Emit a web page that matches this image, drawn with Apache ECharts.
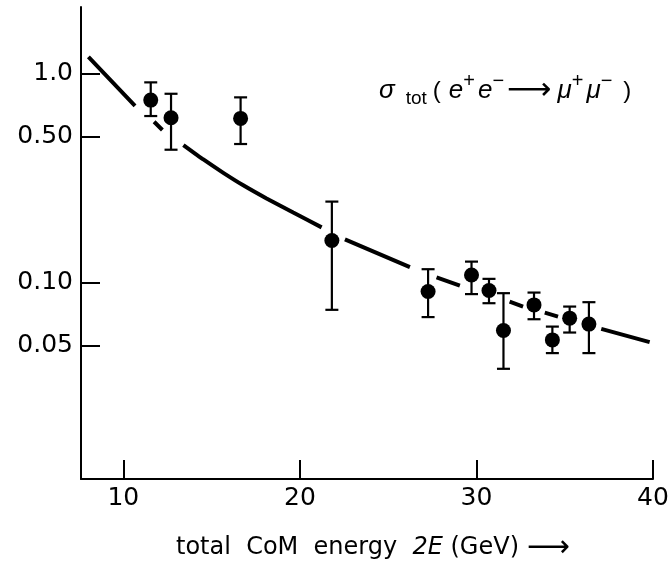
<!DOCTYPE html>
<html><head><meta charset="utf-8">
<script src="https://cdn.jsdelivr.net/npm/echarts@6/dist/echarts.min.js"></script>
<style>html,body{margin:0;padding:0;background:#fff}#c{width:670px;height:563px}</style>
</head><body><div id="c"></div>
<script>
// measured points: total CoM energy 2E (GeV) and sigma_tot (nb)
const energy    = [11.55, 12.70, 16.64, 21.81, 27.26, 29.72, 30.71, 31.53, 33.26, 34.30, 35.28, 36.37];
const sigma     = [0.746, 0.614, 0.610, 0.159, 0.0906, 0.1088, 0.0916, 0.0590, 0.0782, 0.0532, 0.0676, 0.0633];
const sigmaHigh = [0.907, 0.800, 0.769, 0.244, 0.1159, 0.126, 0.1042, 0.0890, 0.0896, 0.0616, 0.0768, 0.0806];
const sigmaLow  = [0.626, 0.432, 0.460, 0.0741, 0.0684, 0.0881, 0.0797, 0.0387, 0.0668, 0.0460, 0.0577, 0.0460];
// QED curve (null = gap in the dashed curve)
const curveE     = [8.02, 10.66, null, 11.74, 12.21, null, 13.40, 14.53, 15.66, 16.79, 18.11, 19.62, 21.23, null, 22.55, 26.23, null, 27.74, 29.06, null, 31.88, 32.64, null, 33.87, 34.62, null, 37.07, 39.81];
const curveSigma = [1.20, 0.701, null, 0.588, 0.537, null, 0.455, 0.388, 0.335, 0.292, 0.2526, 0.2163, 0.1837, null, 0.161, 0.1185, null, 0.106, 0.0968, null, 0.0811, 0.0768, null, 0.0719, 0.0688, null, 0.0601, 0.0519];
const xTicks = [10, 20, 30, 40];
const yTicks = [0.05, 0.1, 0.5, 1.0];
const yTickLabels = ['0.05', '0.10', '0.50', '1.0'];
const xAxisTitle = 'total  CoM  energy  {i|2E} (GeV) {a|⟶}';

const chart = echarts.init(document.getElementById('c'));
const FONT = 'DejaVu Sans';
const axisLine = {show: true, onZero: false, lineStyle: {color: '#000', width: 2}};
const base = {fontFamily: 'Liberation Sans', fontWeight: 'normal', color: '#000'};
chart.setOption({
  animation: false,
  backgroundColor: '#fff',
  grid: {left: 81, right: 17, top: 7, bottom: 84, outerBoundsMode: 'none', containLabel: false},
  title: {
    text: '{s|σ}{sub|tot}{p|(}{e|e}{sup|+}{e|e}{sup|−}{a|⟶}{e|μ}{sup|+}{e|μ}{sup|−}{p2|)}',
    left: 374, top: 66,
    textStyle: {
      fontWeight: 'normal',
      rich: {
        s: Object.assign({}, base, {fontStyle: 'italic', fontSize: 26}),
        sub: Object.assign({}, base, {fontSize: 19, padding: [16, 6, 0, 11]}),
        p: Object.assign({}, base, {fontSize: 24, padding: [0, 8, 0, 0]}),
        p2: Object.assign({}, base, {fontSize: 24, padding: [0, 0, 0, 8]}),
        e: Object.assign({}, base, {fontStyle: 'italic', fontSize: 26}),
        sup: Object.assign({}, base, {fontSize: 20, padding: [0, 3, 20, 0]}),
        a: {fontFamily: 'DejaVu Sans', fontWeight: 'normal', color: '#000', fontSize: 31, padding: [0, 6, 0, 0]}
      }
    }
  },
  graphic: [{
    type: 'text', x: 176, y: 548, silent: true,
    style: {
      text: xAxisTitle, fontFamily: FONT, fontSize: 24, fill: '#000',
      align: 'left', verticalAlign: 'middle',
      rich: {
        i: {fontFamily: FONT, fontStyle: 'italic', fontSize: 24, color: '#000'},
        a: {fontFamily: FONT, fontSize: 30, color: '#000'}
      }
    }
  }],
  xAxis: {
    type: 'value', min: 7.6, max: 40,
    axisLine: axisLine,
    axisTick: {show: true, inside: true, length: 19, lineStyle: {color: '#000', width: 2}, customValues: xTicks},
    axisLabel: {customValues: xTicks, fontFamily: FONT, fontSize: 25, color: '#000', margin: 7},
    splitLine: {show: false}
  },
  yAxis: {
    type: 'log', logBase: 10, min: 0.0115, max: 2.08,
    axisLine: axisLine,
    axisTick: {show: true, inside: true, length: 19, lineStyle: {color: '#000', width: 2}, customValues: yTicks},
    axisLabel: {customValues: yTicks, fontFamily: FONT, fontSize: 25, color: '#000', margin: 8,
      formatter: v => { const i = yTicks.findIndex(t => Math.abs(t - v) / t < 1e-6); return i >= 0 ? yTickLabels[i] : ''; }},
    minorTick: {show: false},
    splitLine: {show: false}
  },
  series: [
    {
      type: 'line',
      data: curveE.map((e, i) => e == null ? '-' : [e, curveSigma[i]]),
      connectNulls: false, smooth: 0.15,
      showSymbol: false, symbol: 'none',
      lineStyle: {color: '#000', width: 4, cap: 'butt'},
      z: 1
    },
    {
      type: 'custom',
      data: energy.map((e, i) => [e, sigmaLow[i], sigmaHigh[i]]),
      encode: {x: 0, y: [1, 2]},
      renderItem: (params, api) => {
        const x = api.value(0);
        const lo = api.coord([x, api.value(1)]);
        const hi = api.coord([x, api.value(2)]);
        const hw = 6.5;
        const st = {stroke: '#000', lineWidth: 2.2};
        return {type: 'group', children: [
          {type: 'line', shape: {x1: lo[0], y1: lo[1], x2: hi[0], y2: hi[1]}, style: st},
          {type: 'line', shape: {x1: lo[0] - hw, y1: lo[1], x2: lo[0] + hw, y2: lo[1]}, style: st},
          {type: 'line', shape: {x1: hi[0] - hw, y1: hi[1], x2: hi[0] + hw, y2: hi[1]}, style: st}
        ]};
      },
      z: 2
    },
    {
      type: 'scatter',
      data: energy.map((e, i) => [e, sigma[i]]),
      symbol: 'circle', symbolSize: 15,
      itemStyle: {color: '#000', opacity: 1},
      z: 3
    }
  ]
});
</script></body></html>
